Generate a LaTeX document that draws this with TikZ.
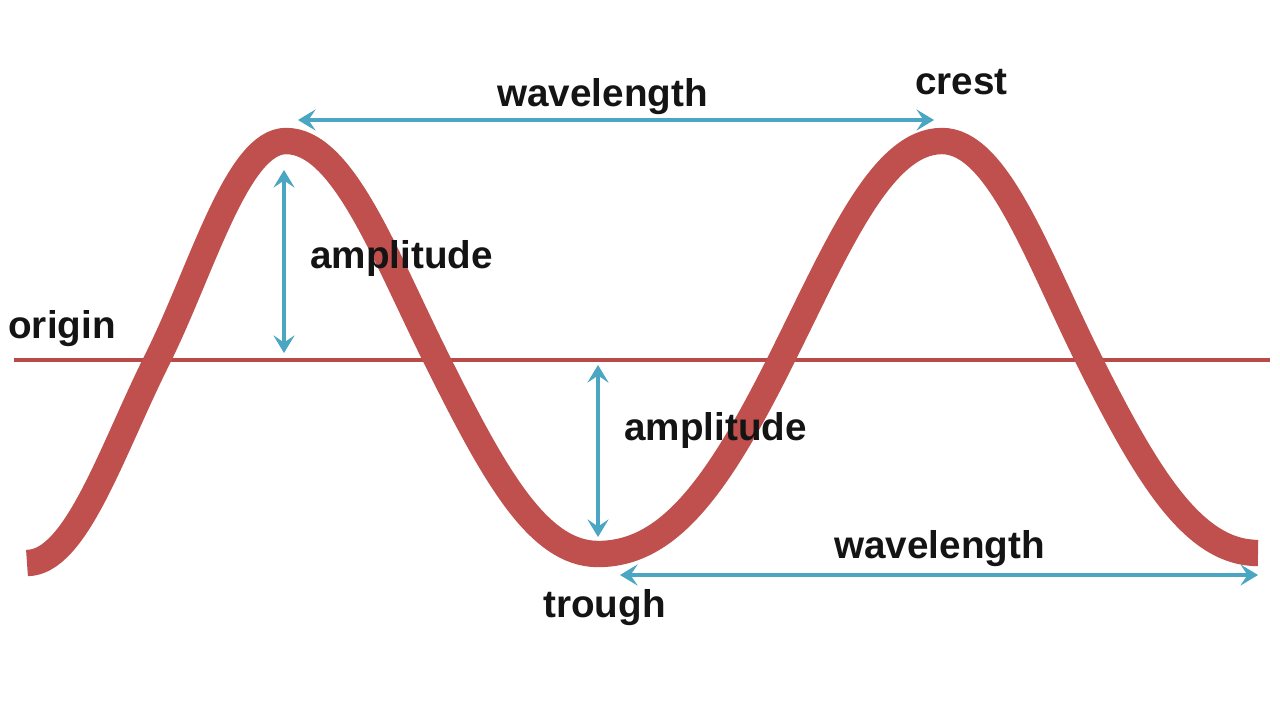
\documentclass[tikz,border=0pt]{standalone}
\usepackage{fontspec}
\setmainfont{Liberation Sans}
\usetikzlibrary{arrows.meta}
\definecolor{wavered}{RGB}{192,80,77}
\definecolor{axisred}{RGB}{184,74,71}
\definecolor{arrowblue}{RGB}{75,166,195}
\tikzset{
  wave/.style={draw=wavered, line width=15pt, line join=round},
  axisline/.style={draw=axisred, line width=2.8pt},
  dim/.style={draw=arrowblue, line width=2.4pt,
    {Stealth[length=10pt, width=12pt, inset=4pt]}-{Stealth[length=10pt, width=12pt, inset=4pt]}},
  lbl/.style={font=\fontsize{22}{26}\selectfont\bfseries, text=black!92, inner sep=0pt, anchor=base west}
}
\begin{document}
\begin{tikzpicture}[x=0.02cm, y=-0.02cm]
\useasboundingbox[fill=white] (0,0) rectangle (1280,720);
% axis
\coordinate (axL) at (14,360);
\coordinate (axR) at (1270,360);
\draw[axisline] (axL) -- (axR);
% wave key points
\coordinate (e0) at (27,563);
\coordinate (c1) at (157,360);
\coordinate (e1) at (286,141);
\coordinate (c2) at (437,360);
\coordinate (e2) at (598,554);
\coordinate (c3) at (781,360);
\coordinate (e3) at (942,141);
\coordinate (c4) at (1089,360);
\coordinate (e4) at (1258,553);
\draw[wave] (e0)
  .. controls (76,563) and (111.5,451) .. (c1)
  .. controls (202,270) and (237,141) .. (e1)
  .. controls (343,141) and (384,254) .. (c2)
  .. controls (493,472) and (537,554) .. (e2)
  .. controls (668,554) and (717,488) .. (c3)
  .. controls (837,248) and (881,141) .. (e3)
  .. controls (998,141) and (1038,258) .. (c4)
  .. controls (1148,478) and (1194,553) .. (e4);
% arrow end points
\coordinate (wlTopL) at (298,120);
\coordinate (wlTopR) at (934,120);
\coordinate (amp1T) at (284,170);
\coordinate (amp1B) at (284,353);
\coordinate (amp2T) at (598,365);
\coordinate (amp2B) at (598,537);
\coordinate (wlBotL) at (620,575);
\coordinate (wlBotR) at (1258,575);
\draw[dim] (wlTopL) -- (wlTopR);
\draw[dim] (amp1T) -- (amp1B);
\draw[dim] (amp2T) -- (amp2B);
\draw[dim] (wlBotL) -- (wlBotR);
% labels
\node[lbl] (wavelengthTop) at (497,106) {wavelength};
\node[lbl] (crest) at (915,94) {crest};
\node[lbl] (amplitudeTop) at (310,268) {amplitude};
\node[lbl] (origin) at (8,338) {origin};
\node[lbl] (amplitudeBot) at (624,440) {amplitude};
\node[lbl] (wavelengthBot) at (834,558) {wavelength};
\node[lbl] (trough) at (543,617) {trough};
\end{tikzpicture}
\end{document}
